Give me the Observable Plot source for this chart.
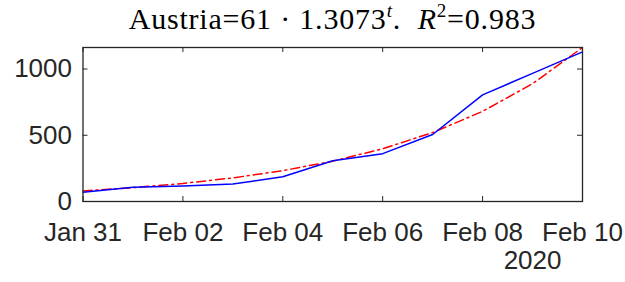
<!DOCTYPE html>
<html>
<head>
<meta charset="utf-8">
<script src="https://cdn.jsdelivr.net/npm/d3@7"></script>
<script src="https://cdn.jsdelivr.net/npm/@observablehq/plot@0.6"></script>
<style>
  html, body { margin: 0; padding: 0; background: #fff; }
  #wrap { position: relative; width: 625px; height: 282px; }
  #title { position: absolute; left: 0; top: 0; width: 625px; height: 40px; box-sizing: border-box; padding-left: 40px;
    text-align: center; font-family: "Liberation Serif", serif; font-size: 30px; letter-spacing: 0.8px; line-height: 38px; color: #000; white-space: nowrap; }
  #title sup { font-size: 19px; vertical-align: 0; position: relative; top: -12px; }
  #chart { position: absolute; left: 0; top: 40px; }
</style>
</head>
<body>
<div id="wrap">
  <div id="title">Austria=61 · 1.3073<sup><i>t</i></sup>.&nbsp; <i>R</i><sup>2</sup>=0.983</div>
  <div id="chart"></div>
</div>
<script>
const dates = ["2020-01-31","2020-02-01","2020-02-02","2020-02-03","2020-02-04","2020-02-05","2020-02-06","2020-02-07","2020-02-08","2020-02-09","2020-02-10"];
const cases = [70, 107, 117, 132, 187, 307, 361, 506, 805, 967, 1129];
const fit = [79.7, 104.3, 136.3, 178.2, 232.9, 304.5, 398.0, 520.3, 680.2, 889.2, 1162.4];
const xTickDates = ["2020-01-31","2020-02-02","2020-02-04","2020-02-06","2020-02-08","2020-02-10"];
const yTicks = [0, 500, 1000];
const yearLabel = "2020";
const yearLabelDate = "2020-02-09";

const parse = d3.utcParse("%Y-%m-%d");
const rows = dates.map((d, i) => ({date: parse(d), cases: cases[i], fit: fit[i]}));
const xt = xTickDates.map(parse);
const axisColor = "#262626";
const H = 242, mt = 7, mb = 81, ml = 82.5, mr = 43;
const innerH = H - mt - mb, innerW = 625 - ml - mr;
const tl = 5;

const plot = Plot.plot({
  width: 625,
  height: H,
  marginTop: mt,
  marginBottom: mb,
  marginLeft: ml,
  marginRight: mr,
  style: {fontFamily: "'Liberation Sans', Arial, sans-serif", fontSize: "26px", color: axisColor, background: "white", overflow: "visible"},
  x: {type: "utc", domain: [parse(dates[0]), parse(dates[dates.length - 1])]},
  y: {domain: [0, fit[fit.length - 1]]},
  marks: [
    Plot.line(rows, {x: "date", y: "fit", stroke: "#ff0000", strokeWidth: 1.5, strokeDasharray: "9,4,2,4"}),
    Plot.line(rows, {x: "date", y: "cases", stroke: "#0000ff", strokeWidth: 1.5}),
    Plot.ruleX(xt, {x: d => d, insetTop: innerH - tl, stroke: axisColor, strokeWidth: 1}),
    Plot.ruleX(xt, {x: d => d, insetBottom: innerH - tl, stroke: axisColor, strokeWidth: 1}),
    Plot.ruleY(yTicks, {y: d => d, insetRight: innerW - tl, stroke: axisColor, strokeWidth: 1}),
    Plot.ruleY(yTicks, {y: d => d, insetLeft: innerW - tl, stroke: axisColor, strokeWidth: 1}),
    Plot.frame({stroke: axisColor, strokeWidth: 1.3}),
    Plot.axisX({ticks: xt, tickSize: 0, tickPadding: 21, tickFormat: d3.utcFormat("%b %d"), fill: axisColor, fontSize: 26, label: null}),
    Plot.axisY({ticks: yTicks, tickSize: 0, tickPadding: 11, tickFormat: d3.format("d"), fill: axisColor, fontSize: 26, label: null}),
    Plot.text([yearLabel], {x: () => parse(yearLabelDate), frameAnchor: "bottom", dy: 67, fill: axisColor, fontSize: 26})
  ]
});
document.getElementById("chart").appendChild(plot);
</script>
</body>
</html>
